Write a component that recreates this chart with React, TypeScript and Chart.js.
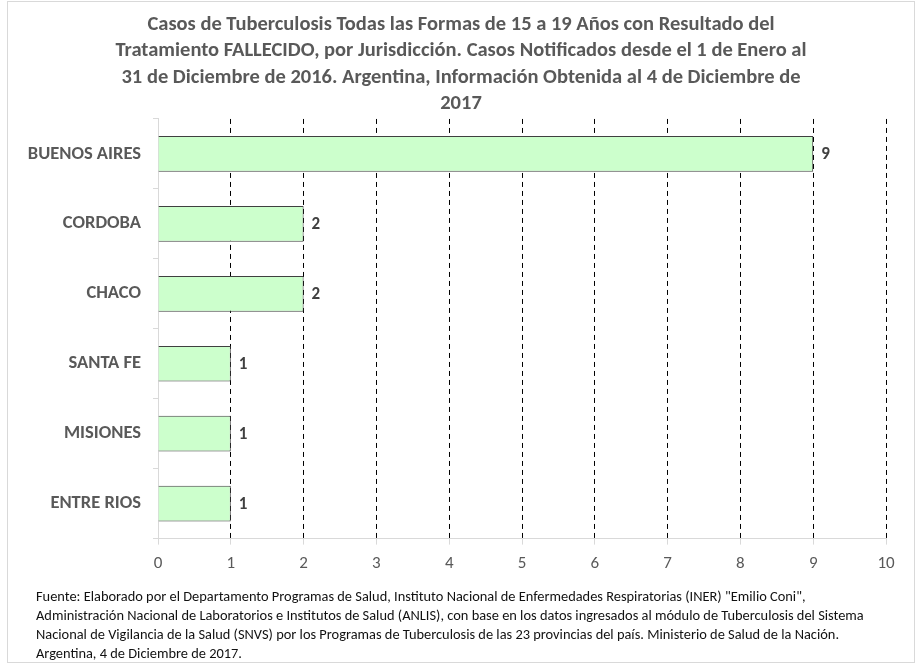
import React, { useEffect, useRef } from "react";
import { Chart, registerables } from "chart.js";

Chart.register(...registerables);

const categories = ["BUENOS AIRES", "CORDOBA", "CHACO", "SANTA FE", "MISIONES", "ENTRE RIOS"];
const values = [9, 2, 2, 1, 1, 1];
const xTicks = [0, 1, 2, 3, 4, 5, 6, 7, 8, 9, 10];
const titleLines = [
  "Casos de Tuberculosis Todas las Formas de 15 a 19 Años con Resultado del",
  "Tratamiento FALLECIDO, por Jurisdicción. Casos Notificados desde el 1 de Enero al",
  "31 de Diciembre de 2016. Argentina, Información Obtenida al 4 de Diciembre de",
  "2017",
];
const footerLines = [
  "Fuente: Elaborado por el Departamento Programas de Salud, Instituto Nacional de Enfermedades Respiratorias (INER) \"Emilio Coni\",",
  "Administración Nacional de Laboratorios e Institutos de Salud (ANLIS), con base en los datos ingresados al módulo de Tuberculosis del Sistema",
  "Nacional de Vigilancia de la Salud (SNVS) por los Programas de Tuberculosis de las 23 provincias del país. Ministerio de Salud de la Nación.",
  "Argentina,  4 de Diciembre de 2017.",
];

const FONT = "Carlito, Calibri, 'Liberation Sans Narrow', 'Open Sans', sans-serif";

const valueLabels = {
  id: "valueLabels",
  afterDatasetsDraw(chart: any) {
    const ctx = chart.ctx;
    const meta = chart.getDatasetMeta(0);
    ctx.save();
    ctx.font = `bold 17px ${FONT}`;
    ctx.fillStyle = "#404040";
    ctx.textAlign = "left";
    ctx.textBaseline = "middle";
    meta.data.forEach((bar: any, i: number) => {
      ctx.fillText(String(values[i]), bar.x + 8, bar.y + 1);
    });
    ctx.restore();
  },
};

export default function App() {
  const ref = useRef<HTMLCanvasElement>(null);
  useEffect(() => {
    if (!ref.current) return;
    const chart = new Chart(ref.current, {
      type: "bar",
      data: {
        labels: categories,
        datasets: [
          {
            data: values,
            backgroundColor: "#ccffcc",
            borderColor: "#404040",
            borderWidth: 1,
            categoryPercentage: 1,
            barPercentage: 0.51,
          },
        ],
      },
      options: {
        indexAxis: "y",
        animation: false,
        responsive: false,
        layout: { padding: { left: 0, right: 0, top: 0, bottom: 9 } },
        plugins: {
          legend: { display: false },
          tooltip: { enabled: false },
          title: {
            display: true,
            text: titleLines,
            color: "#595959",
            font: { family: FONT, size: 20.5, weight: "bold", lineHeight: 1.28 },
            padding: { top: 10, bottom: 2 },
          },
        },
        scales: {
          x: {
            min: 0,
            max: 10,
            afterBuildTicks(scale: any) {
              scale.ticks = xTicks.map((v) => ({ value: v }));
            },
            border: { display: true, color: "#d9d9d9", width: 1, dash: [5, 4] },
            grid: {
              color: (c: any) => (c.tick && c.tick.value === 0 ? "rgba(0,0,0,0)" : "#000000"),
              lineWidth: 1,
              drawTicks: true,
              tickLength: 6,
              tickColor: "#d9d9d9",
              tickBorderDash: [],
            },
            ticks: {
              color: "#595959",
              font: { family: FONT, size: 17 },
              padding: 9,
            },
          },
          y: {
            afterFit(scale: any) {
              scale.width = 150;
            },
            border: { display: true, color: "#d9d9d9", width: 1 },
            grid: {
              offset: true,
              drawOnChartArea: false,
              drawTicks: true,
              tickLength: 5,
              tickColor: "#d9d9d9",
            },
            ticks: {
              color: "#595959",
              font: { family: FONT, size: 18.5, weight: "bold" },
              padding: 12,
            },
          },
          spacer: {
            type: "category",
            axis: "y",
            position: "right",
            labels: [""],
            grid: { display: false, drawTicks: false },
            border: { display: false },
            ticks: { display: false },
            afterFit(scale: any) {
              scale.width = 28;
            },
          },
        },
      },
      plugins: [valueLabels],
    });
    return () => chart.destroy();
  }, []);

  return (
    <div
      style={{
        position: "absolute",
        left: 7,
        top: 1,
        width: 908,
        height: 662,
        boxSizing: "border-box",
        border: "1px solid #d9d9d9",
        background: "#ffffff",
      }}
    >
      <canvas ref={ref} width={906} height={590} style={{ display: "block", width: 906, height: 590 }} />
      <div
        style={{
          position: "absolute",
          left: 28,
          top: 585,
          fontFamily: FONT,
          fontSize: 14.4,
          lineHeight: "19px",
          color: "#111111",
          whiteSpace: "nowrap",
        }}
      >
        {footerLines.map((l, i) => (
          <div key={i}>{l}</div>
        ))}
      </div>
    </div>
  );
}
